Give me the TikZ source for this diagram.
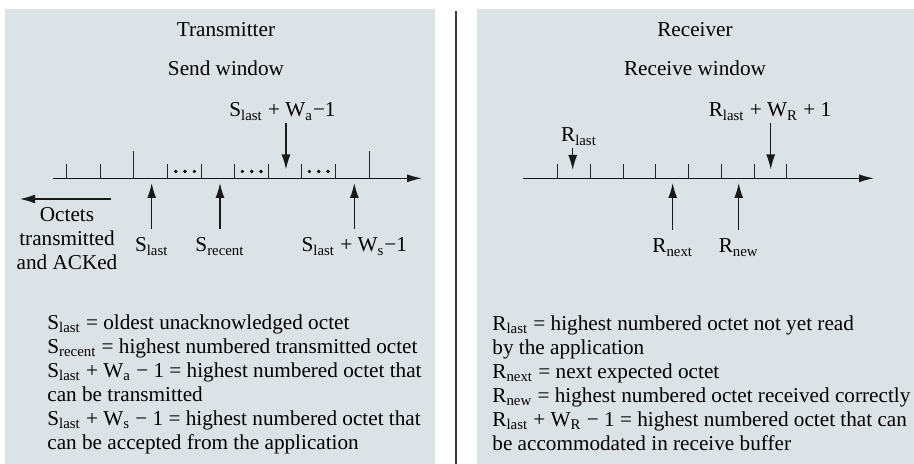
\documentclass[tikz,border=0pt]{standalone}
\usepackage{fontspec}
\setmainfont{Liberation Serif}
\usepackage{tikz}
\usetikzlibrary{arrows.meta,positioning,calc}
\tikzset{
  winarrow/.style={-{Latex[length=7.5pt,width=4.5pt]}, line width=0.7pt, draw=black!90},
  axisline/.style={-{Latex[length=7.5pt,width=4pt]}, line width=0.65pt, draw=black!90},
  ticklin/.style={line width=0.5pt, draw=black!85},
  ptrlabel/.style={inner sep=1pt},
  notes/.style={align=left, inner sep=0pt}
}
\definecolor{PanelGray}{HTML}{DCE3E6}
\definecolor{RuleGray}{HTML}{3A3A3A}
\newcommand{\Slast}{S\textsubscript{last}}
\newcommand{\Srecent}{S\textsubscript{recent}}
\newcommand{\Rlast}{R\textsubscript{last}}
\newcommand{\Rnext}{R\textsubscript{next}}
\newcommand{\Rnew}{R\textsubscript{new}}

\begin{document}
\begin{tikzpicture}[x=0.5pt, y=-0.5pt, font=\fontsize{10.6}{12}\selectfont]
\useasboundingbox (0,0) rectangle (914,464);
% panels and divider
\fill[PanelGray] (5,9) rectangle (435,464);
\fill[PanelGray] (477,9) rectangle (914,464);
\draw[RuleGray, line width=1pt] (455.5,11) -- (455.5,464);

% Transmitter side
\node[anchor=base] (txtitle) at (226,37) {Transmitter};
\node[anchor=base] (sendwin) at (226,76) {Send window};
\draw[axisline] (53,178.3) -- (422,178.3);
\foreach \i in {0,1,3,4,5,6,7,8}
  \draw[ticklin] (66.7+33.6*\i,178.3) -- ++(0,-14);
\foreach \i in {2,9}
  \draw[ticklin] (66.7+33.6*\i,178.3) -- ++(0,-27.6);
\foreach \c in {185,251.7,318.7}
  \foreach \d in {-9.3,0,9.3}
    \fill[black] (\c+\d,171.5) circle[radius=0.9pt];

\coordinate (slastpt) at (151.7,183);
\coordinate (srecentpt) at (220,183);
\coordinate (swspt) at (354.3,183);
\coordinate (swapt) at (286,169.5);
\node[ptrlabel, anchor=base] (slastlbl) at (151.7,252) {\Slast};
\node[ptrlabel, anchor=base] (srecentlbl) at (220,252) {\Srecent};
\node[ptrlabel, anchor=base] (swslbl) at (354.3,252) {\Slast{} + W\textsubscript{s}−1};
\node[ptrlabel, anchor=base] (swalbl) at (282.5,117) {\Slast{} + W\textsubscript{a}−1};
\draw[winarrow, shorten <=3.3pt] (slastlbl.north) -- (slastpt);
\draw[winarrow, shorten <=3.3pt] (srecentlbl.north) -- (srecentpt);
\draw[winarrow, shorten <=3.3pt] (swslbl.north -| swspt) -- (swspt);
\draw[winarrow] (swalbl.south -| swapt) -- (swapt);

% octets already acknowledged
\node[align=center, anchor=base] (acked) at (67,270) {Octets\\transmitted\\and ACKed};
\coordinate (ackstart) at (111,199);
\coordinate (ackend) at (20,199);
\draw[winarrow] (ackstart) -- (ackend);

\node[notes, anchor=base west] (txnotes) at (47,449) {\Slast{} = oldest unacknowledged octet\\
  \Srecent{} = highest numbered transmitted octet\\
  \Slast{} + W\textsubscript{a} − 1 = highest numbered octet that\\
  can be transmitted\\
  \Slast{} + W\textsubscript{s} − 1 = highest numbered octet that\\
  can be accepted from the application};

% Receiver side
\node[anchor=base] (rxtitle) at (695,37) {Receiver};
\node[anchor=base] (recvwin) at (695,76) {Receive window};
\draw[axisline] (523.3,178.3) -- (874,178.3);
\foreach \i in {0,...,7}
  \draw[ticklin] (557.7+32.73*\i,178.3) -- ++(0,-14);

\coordinate (rlastpt) at (572.7,170);
\coordinate (rwrpt) at (770.7,169.5);
\coordinate (rnextpt) at (672.7,183);
\coordinate (rnewpt) at (738.7,183);
\node[ptrlabel, anchor=base] (rlastlbl) at (579,142) {\Rlast};
\node[ptrlabel, anchor=base] (rwrlbl) at (770,117) {\Rlast{} + W\textsubscript{R} + 1};
\node[ptrlabel, anchor=base] (rnextlbl) at (672.7,253) {\Rnext};
\node[ptrlabel, anchor=base] (rnewlbl) at (738.7,253) {\Rnew};
\draw[winarrow] (rlastlbl.south -| rlastpt) -- (rlastpt);
\draw[winarrow] (rwrlbl.south -| rwrpt) -- (rwrpt);
\draw[winarrow, shorten <=3.3pt] (rnextlbl.north) -- (rnextpt);
\draw[winarrow, shorten <=3.3pt] (rnewlbl.north) -- (rnewpt);

\node[notes, anchor=base west] (rxnotes) at (492,450) {\Rlast{} = highest numbered octet not yet read\\
  by the application\\
  \Rnext{} = next expected octet\\
  \Rnew{} = highest numbered octet received correctly\\
  \Rlast{} + W\textsubscript{R} − 1 = highest numbered octet that can\\
  be accommodated in receive buffer};
\end{tikzpicture}
\end{document}
